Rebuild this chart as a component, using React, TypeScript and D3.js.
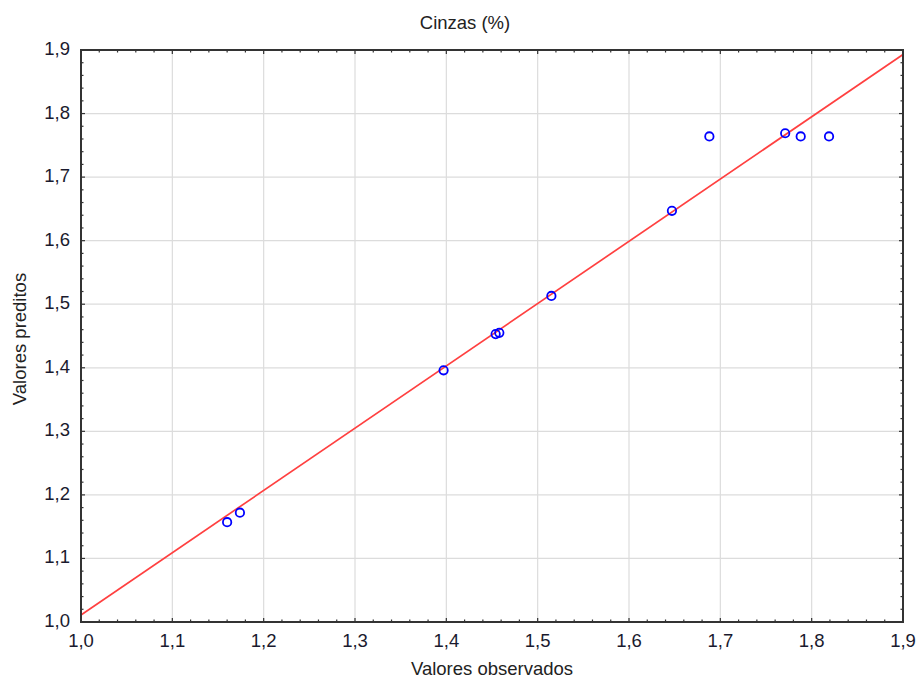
import React from "react";
import * as d3 from "d3";

// observed vs predicted values (Cinzas %)
const observed = [1.16, 1.174, 1.397, 1.454, 1.458, 1.515, 1.647, 1.688, 1.771, 1.788, 1.819];
const predicted = [1.157, 1.172, 1.396, 1.453, 1.455, 1.513, 1.647, 1.764, 1.769, 1.764, 1.764];

// fitted line end points
const fitX = [1.0, 1.9];
const fitY = [1.011, 1.893];

const tickValues = [1.0, 1.1, 1.2, 1.3, 1.4, 1.5, 1.6, 1.7, 1.8, 1.9];

const W = 918;
const H = 686;
const margin = { top: 50, right: 15, bottom: 64, left: 81 };
const font = "'Liberation Sans', Arial, sans-serif";

const App = () => {
  const x = d3.scaleLinear().domain([1.0, 1.9]).range([margin.left, W - margin.right]);
  const y = d3.scaleLinear().domain([1.0, 1.9]).range([H - margin.bottom, margin.top]);
  const fmt = (v: number) => d3.format(".1f")(v).replace(".", ",");

  const minor = d3.range(1.0, 1.9001, 0.02).filter(
    v => Math.abs(v * 10 - Math.round(v * 10)) > 1e-6
  );
  const [x0, x1] = x.range();
  const [y0, y1] = y.range();

  const line = d3
    .line<number>()
    .x((_, i) => x(fitX[i]))
    .y((_, i) => y(fitY[i]));

  return (
    <svg
      width={W}
      height={H}
      style={{ position: "absolute", left: 0, top: 0, background: "#fff" }}
      fontFamily={font}
    >
      {/* grid */}
      <g stroke="#dcdcdc" strokeWidth={1.2}>
        {tickValues.slice(1, -1).map(v => (
          <line key={"gx" + v} x1={x(v)} x2={x(v)} y1={y1} y2={y0} />
        ))}
        {tickValues.slice(1, -1).map(v => (
          <line key={"gy" + v} x1={x0} x2={x1} y1={y(v)} y2={y(v)} />
        ))}
      </g>

      {/* ticks, inward on all four sides */}
      <g stroke="#333" strokeWidth={1.2}>
        {tickValues.map(v => (
          <g key={"t" + v}>
            <line x1={x(v)} x2={x(v)} y1={y0} y2={y0 - 4} />
            <line x1={x(v)} x2={x(v)} y1={y1} y2={y1 + 4} />
            <line x1={x0} x2={x0 + 4} y1={y(v)} y2={y(v)} />
            <line x1={x1} x2={x1 - 4} y1={y(v)} y2={y(v)} />
          </g>
        ))}
        {minor.map(v => (
          <g key={"m" + v}>
            <line x1={x(v)} x2={x(v)} y1={y0} y2={y0 - 2.5} />
            <line x1={x(v)} x2={x(v)} y1={y1} y2={y1 + 2.5} />
            <line x1={x0} x2={x0 + 2.5} y1={y(v)} y2={y(v)} />
            <line x1={x1} x2={x1 - 2.5} y1={y(v)} y2={y(v)} />
          </g>
        ))}
      </g>

      {/* fitted line */}
      <path d={line(fitX) || ""} fill="none" stroke="#ff4040" strokeWidth={1.7} />

      {/* points */}
      {observed.map((o, i) => (
        <circle
          key={i}
          cx={x(o)}
          cy={y(predicted[i])}
          r={4.2}
          fill="none"
          stroke="#0000ff"
          strokeWidth={1.8}
        />
      ))}

      {/* frame */}
      <rect x={x0} y={y1} width={x1 - x0} height={y0 - y1} fill="none" stroke="#333" strokeWidth={2} />

      {/* tick labels */}
      <g fontSize={18.5} fill="#1a1a2e">
        {tickValues.map(v => (
          <text key={"xl" + v} x={x(v)} y={y0 + 25} textAnchor="middle">
            {fmt(v)}
          </text>
        ))}
        {tickValues.map(v => (
          <text key={"yl" + v} x={x0 - 11} y={y(v) + 5} textAnchor="end">
            {fmt(v)}
          </text>
        ))}
      </g>

      {/* titles */}
      <text x={465} y={29} textAnchor="middle" fontSize={18.5} fill="#222">
        Cinzas (%)
      </text>
      <text x={(x0 + x1) / 2} y={675} textAnchor="middle" fontSize={18.5} fill="#222">
        Valores observados
      </text>
      <text
        transform={`translate(25.5, ${(y0 + y1) / 2 + 3}) rotate(-90)`}
        textAnchor="middle"
        fontSize={18.5}
        fill="#222"
      >
        Valores preditos
      </text>
    </svg>
  );
};

export default App;
